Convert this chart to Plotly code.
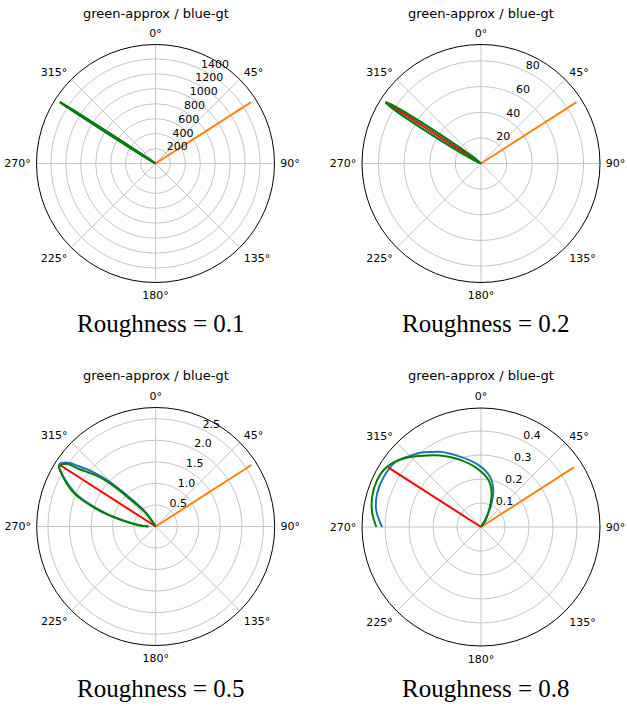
import plotly.graph_objects as go

# ---------------- data ----------------
ROUGHNESS = [0.1, 0.2, 0.5, 0.8]
INCIDENT_DEG = 57.3      # incident direction (orange)
REFLECT_DEG = -57.3      # mirror direction (red)

# roughness 0.1
THETA_R01 = [-90, -61.3, -59.8, -58.8, -58.3, -57.9, -57.6, -57.3, -57.0, -56.7, -56.3, -55.8, -54.8, -53.3, 90]
GT_R01 = [0, 0, 40, 160, 380, 780, 1280, 1515, 1280, 780, 380, 160, 40, 0, 0]
APPROX_R01 = [0, 0, 50, 180, 400, 800, 1300, 1520, 1300, 800, 400, 180, 50, 0, 0]

# roughness 0.2
THETA_R02 = [-90, -67.3, -64.3, -61.8, -60.3, -59.3, -58.5, -57.9, -57.3, -56.7, -56.1, -55.3, -54.3, -52.8, -50.3, -47.3, 90]
GT_R02 = [0, 0, 5, 16, 33, 53, 74, 83.5, 88, 83.5, 74, 53, 33, 16, 5, 0, 0]
APPROX_R02 = [0, 0, 6, 18, 35, 55, 75, 84, 88.5, 84, 75, 55, 35, 18, 6, 0, 0]

# roughness 0.5
THETA_GT_R05 = [-90, -86.4, -79, -73.4, -67.5, -59.7, -57.3, -54.0, -52.0, -49.0, -46.0, -43.0, -36.0, -27.0]
GT_R05 = [0.15, 0.33, 0.80, 1.38, 2.02, 2.56, 2.66, 2.52, 2.28, 1.92, 1.50, 1.03, 0.46, 0.0]
THETA_AP_R05 = [-90, -86.4, -79, -73.4, -67.5, -59.7, -58.0, -54.9, -53.1, -49.3, -46.2, -43.2, -36.2, -28.0]
APPROX_R05 = [0.18, 0.37, 0.85, 1.44, 2.07, 2.56, 2.64, 2.53, 2.21, 1.81, 1.38, 0.88, 0.36, 0.0]

# roughness 0.8
THETA_GT_R08 = [-90, -80.7, -71.9, -62.8, -52.8, -43.9, -39.3, -32.3, -28.5, -16.6, -2.5, 10.1, 18.3, 25.2, 30.0, 34.0]
GT_R08 = [0.412, 0.443, 0.455, 0.456, 0.448, 0.415, 0.400, 0.370, 0.357, 0.306, 0.259, 0.213, 0.163, 0.095, 0.036, 0.0]
THETA_AP_R08 = [-90, -82.7, -74.4, -65.6, -58.4, -50.9, -42.9, -33.9, -29.7, -17.3, -4.2, 8.8, 17.5, 23.6, 32.8, 36.0]
APPROX_R08 = [0.436, 0.457, 0.471, 0.475, 0.468, 0.442, 0.402, 0.360, 0.343, 0.293, 0.246, 0.199, 0.148, 0.093, 0.036, 0.0]

SPEC_PEAK = [1522, 88.5, 2.64, 0.46]          # length of the incident / mirror lines
R_MAX = [1593, 92.8, 2.76, 0.496]             # radial axis limit
R_TICKS = [[200, 400, 600, 800, 1000, 1200, 1400],
           [20, 40, 60, 80],
           [0.5, 1.0, 1.5, 2.0, 2.5],
           [0.1, 0.2, 0.3, 0.4]]
R_TICKTEXT = [["200", "400", "600", "800", "1000", "1200", "1400"],
              ["20", "40", "60", "80"],
              ["0.5", "1.0", "1.5", "2.0", "2.5"],
              ["0.1", "0.2", "0.3", "0.4"]]
ANGLE_TICKS = [0, 45, 90, 135, 180, 225, 270, 315]
ANGLE_TICKTEXT = ["0°", "45°", "90°", "135°", "180°", "225°", "270°", "315°"]
TITLE = "green-approx / blue-gt"

GT = [(THETA_R01, GT_R01), (THETA_R02, GT_R02), (THETA_GT_R05, GT_R05), (THETA_GT_R08, GT_R08)]
APPROX = [(THETA_R01, APPROX_R01), (THETA_R02, APPROX_R02), (THETA_AP_R05, APPROX_R05), (THETA_AP_R08, APPROX_R08)]

# ---------------- layout geometry ----------------
W, H = 627, 706
CENTERS = [(155.5, 163.5), (481.0, 163.5), (155.7, 526.5), (481.0, 527.0)]
RADIUS = 119.0
TITLE_Y = [13.3, 13.3, 375.7, 375.7]
LABEL_POS = [(161, 323.5), (486, 323.5), (161, 688.5), (486, 688.5)]

BLUE, ORANGE, RED, GREEN = "#1f77b4", "#ff7f0e", "#ff0000", "#008000"

fig = go.Figure()
annotations = []
for i in range(4):
    pid = "polar" if i == 0 else f"polar{i+1}"
    shape = "linear" if i < 2 else "spline"
    th, r = GT[i]
    fig.add_trace(go.Scatterpolar(theta=th, r=r, mode="lines", subplot=pid,
                                  line=dict(color=BLUE, width=2, shape=shape), showlegend=False))
    fig.add_trace(go.Scatterpolar(theta=[INCIDENT_DEG, INCIDENT_DEG], r=[0, SPEC_PEAK[i]], mode="lines",
                                  subplot=pid, line=dict(color=ORANGE, width=2), showlegend=False))
    fig.add_trace(go.Scatterpolar(theta=[REFLECT_DEG, REFLECT_DEG], r=[0, SPEC_PEAK[i]], mode="lines",
                                  subplot=pid, line=dict(color=RED, width=2), showlegend=False))
    th, r = APPROX[i]
    fig.add_trace(go.Scatterpolar(theta=th, r=r, mode="lines", subplot=pid,
                                  line=dict(color=GREEN, width=2, shape=shape), showlegend=False))

    cx, cy = CENTERS[i]
    polar = dict(
        domain=dict(x=[(cx - RADIUS) / W, (cx + RADIUS) / W],
                    y=[1 - (cy + RADIUS) / H, 1 - (cy - RADIUS) / H]),
        bgcolor="white",
        angularaxis=dict(rotation=90, direction="clockwise", tickmode="array",
                         tickvals=ANGLE_TICKS, ticktext=ANGLE_TICKTEXT,
                         showline=True, linecolor="black", linewidth=1,
                         gridcolor="#c4c4c4", gridwidth=1,
                         ticks="outside", ticklen=3, tickcolor="rgba(0,0,0,0)",
                         tickfont=dict(family="DejaVu Sans", size=11, color="black")),
        radialaxis=dict(range=[0, R_MAX[i]], tickmode="array", tickvals=R_TICKS[i],
                        ticktext=[t + "<br>&nbsp;" for t in R_TICKTEXT[i]],
                        showline=False, ticks="",
                        angle=67.5, tickangle=67.5,
                        gridcolor="#c4c4c4", gridwidth=1,
                        tickfont=dict(family="DejaVu Sans", size=11, color="black")),
    )
    fig.update_layout(**{pid: polar})
    annotations.append(dict(text=TITLE, x=cx / W, y=1 - TITLE_Y[i] / H, xref="paper", yref="paper",
                            showarrow=False, xanchor="center", yanchor="middle",
                            font=dict(family="DejaVu Sans", size=13, color="black")))
    lx, ly = LABEL_POS[i]
    annotations.append(dict(text=f"Roughness = {ROUGHNESS[i]}", x=lx / W, y=1 - ly / H,
                            xref="paper", yref="paper", showarrow=False,
                            xanchor="center", yanchor="middle",
                            font=dict(family="Liberation Serif", size=25, color="black")))

fig.update_layout(width=W, height=H, margin=dict(l=0, r=0, t=0, b=0),
                  paper_bgcolor="white", showlegend=False, annotations=annotations)
fig.write_html("out.html", config={"displayModeBar": False},
               post_script="document.body.style.margin='0';document.body.style.overflow='hidden';")
